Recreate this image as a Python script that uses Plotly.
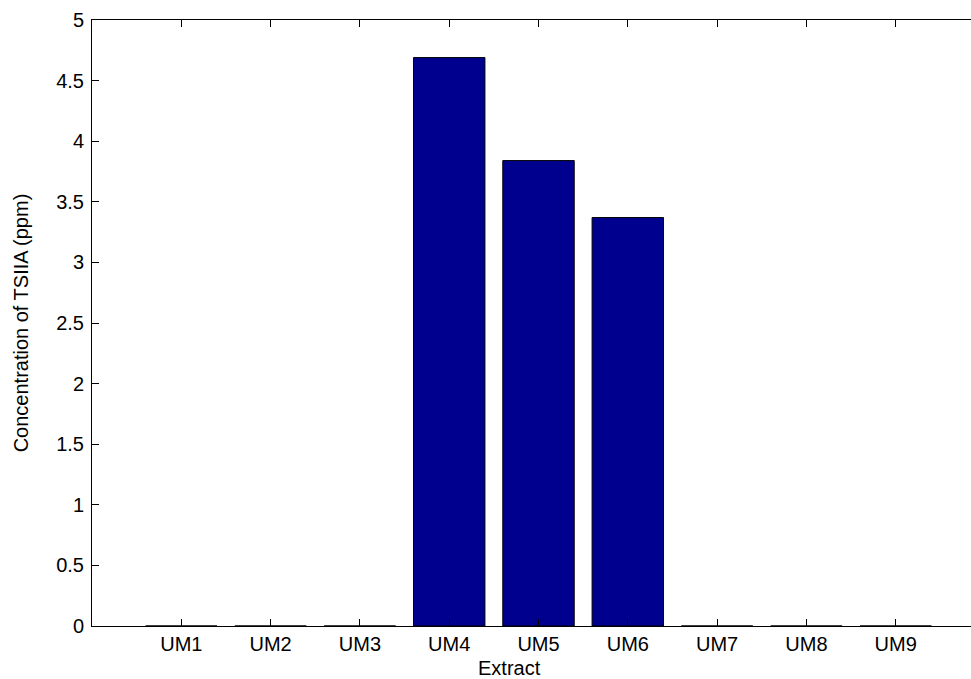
import plotly.graph_objects as go

categories = ["UM1", "UM2", "UM3", "UM4", "UM5", "UM6", "UM7", "UM8", "UM9"]
values = [0, 0, 0, 4.69, 3.84, 3.37, 0, 0, 0]
positions = [1, 2, 3, 4, 5, 6, 7, 8, 9]
y_ticks = [0, 0.5, 1, 1.5, 2, 2.5, 3, 3.5, 4, 4.5, 5]
y_ticklabels = ["0", "0.5", "1", "1.5", "2", "2.5", "3", "3.5", "4", "4.5", "5"]

FONT = "Liberation Sans, Arial, sans-serif"

fig = go.Figure()
fig.add_trace(go.Bar(
    x=positions, y=values, width=0.8,
    marker=dict(color="#00008F", line=dict(color="black", width=1)),
    showlegend=False,
))

fig.update_layout(
    width=971, height=679,
    margin=dict(l=92, r=0, t=20, b=53),
    paper_bgcolor="white", plot_bgcolor="white",
    font=dict(family=FONT, size=20, color="black"),
    xaxis=dict(
        range=[0, 9.843], tickmode="array", tickvals=positions, ticktext=categories,
        ticks="inside", ticklen=7, tickcolor="black", showline=True, linecolor="black",
        linewidth=1, mirror="ticks", showgrid=False, zeroline=False,
        tickfont=dict(family=FONT, size=20),
    ),
    yaxis=dict(
        range=[0, 5], tickmode="array", tickvals=y_ticks, ticktext=y_ticklabels,
        ticks="inside", ticklen=7, tickcolor="black", showline=True, linecolor="black",
        linewidth=1, mirror=False, showgrid=False, zeroline=False,
        tickfont=dict(family=FONT, size=20),
        ticklabelstandoff=3,
        title=dict(text="Concentration of TSIIA (ppm)", font=dict(family=FONT, size=20), standoff=22),
    ),
    annotations=[dict(
        text="Extract", x=4.68, xref="x", y=-(668 - 626) / (679 - 20 - 53), yref="paper",
        yanchor="middle", showarrow=False, font=dict(family=FONT, size=20),
    )],
)

fig.write_html("out.html")
